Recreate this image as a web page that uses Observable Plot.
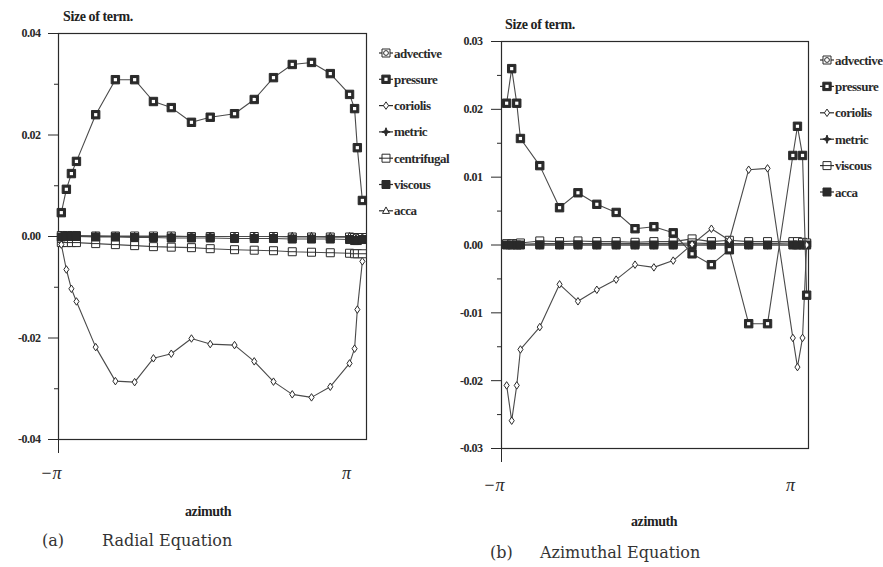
<!DOCTYPE html>
<html><head><meta charset="utf-8">
<script src="https://cdn.jsdelivr.net/npm/d3@7"></script>
<script src="https://cdn.jsdelivr.net/npm/@observablehq/plot@0.6"></script>
<style>
body{margin:0;background:#fff;}
#root{position:relative;width:883px;height:567px;background:#fff;overflow:hidden;color:#222;}
.abs{position:absolute;white-space:nowrap;line-height:1;transform:translateY(-50%);}
.lab{font-family:"Liberation Serif",serif;font-weight:bold;letter-spacing:-0.4px;}
.cap{font-family:"DejaVu Serif",serif;font-size:16px;color:#333;}
#root svg{position:absolute;overflow:visible;}
[aria-label="y-axis tick label"]{font-weight:bold;letter-spacing:-0.5px;}
[aria-label="x-axis tick label"]{font-style:italic;}
</style></head><body><div id="root"></div>
<script>
// ---------- data ----------
const seriesNamesA = ["advective","pressure","coriolis","metric","centrifugal","viscous","acca"];
const seriesNamesB = ["advective","pressure","coriolis","metric","viscous","acca"];

// (a) Radial equation
const azimuthA = [-3.08,-2.97,-2.86,-2.75,-2.33,-1.90,-1.48,-1.07,-0.68,-0.24,0.17,0.70,1.13,1.55,1.96,2.38,2.79,3.21,3.32,3.38,3.49];
const advectiveA = [0.0002,0.0002,0.0002,0.0002,0.0001,0.0001,0.0001,0.0001,0.0001,0.0000,0.0000,0.0000,0.0000,0.0000,-0.0001,-0.0001,-0.0001,-0.0001,-0.0002,-0.0002,-0.0002];
const pressureA = [0.0047,0.0093,0.0124,0.0148,0.0240,0.0309,0.0309,0.0266,0.0254,0.0225,0.0235,0.0242,0.0270,0.0313,0.0339,0.0343,0.0321,0.0280,0.0252,0.0175,0.0071];
const coriolisA = [-0.0016,-0.0065,-0.0103,-0.0128,-0.0218,-0.0285,-0.0287,-0.0240,-0.0231,-0.0201,-0.0212,-0.0214,-0.0246,-0.0286,-0.0311,-0.0317,-0.0296,-0.0250,-0.0221,-0.0144,-0.0049];
const metricA = [0.0001,0.0001,0.0001,0.0001,0.0001,0.0000,0.0000,0.0000,0.0000,0.0000,0.0000,0.0000,0.0000,0.0000,0.0000,0.0000,-0.0001,-0.0001,-0.0003,-0.0004,-0.0003];
const centrifugalA = [-0.0012,-0.0012,-0.0012,-0.0012,-0.0014,-0.0016,-0.0018,-0.0020,-0.0021,-0.0022,-0.0024,-0.0026,-0.0027,-0.0028,-0.0030,-0.0031,-0.0032,-0.0033,-0.0034,-0.0034,-0.0034];
const viscousA = [-0.0001,0.0000,0.0000,0.0000,-0.0001,-0.0001,-0.0002,-0.0002,-0.0003,-0.0003,-0.0003,-0.0004,-0.0004,-0.0004,-0.0005,-0.0005,-0.0005,-0.0006,-0.0008,-0.0008,-0.0006];
const accaA = [0.0000,0.0000,0.0000,0.0000,0.0000,0.0000,0.0000,0.0000,0.0000,0.0000,0.0000,0.0000,0.0000,0.0000,0.0000,0.0000,0.0000,0.0000,-0.0002,-0.0002,-0.0002];

// (b) Azimuthal equation
const azimuthB = [-3.03,-2.92,-2.81,-2.73,-2.31,-1.88,-1.48,-1.07,-0.65,-0.24,0.17,0.59,1.00,1.42,1.81,2.23,2.64,3.19,3.29,3.40,3.49];
const advectiveB = [0.0001,0.0001,0.0001,0.0001,0.0002,0.0002,0.0002,0.0002,0.0002,0.0002,0.0002,0.0002,0.0003,0.0002,0.0002,0.0002,0.0002,0.0003,0.0003,0.0003,0.0002];
const pressureB = [0.0209,0.0260,0.0209,0.0157,0.0117,0.0055,0.0077,0.0060,0.0048,0.0024,0.0027,0.0018,-0.0013,-0.0029,-0.0007,-0.0116,-0.0116,0.0132,0.0175,0.0132,-0.0074];
const coriolisB = [-0.0207,-0.0259,-0.0207,-0.0154,-0.0121,-0.0058,-0.0083,-0.0066,-0.0051,-0.0029,-0.0033,-0.0023,0.0001,0.0024,0.0007,0.0111,0.0113,-0.0137,-0.0180,-0.0137,0.0000];
const metricB = [0.0000,0.0000,0.0000,0.0000,0.0000,0.0000,0.0000,0.0000,0.0000,0.0000,0.0000,0.0000,0.0000,0.0000,0.0000,0.0000,0.0000,0.0000,0.0000,0.0000,0.0000];
const viscousB = [0.0002,0.0002,0.0002,0.0003,0.0006,0.0005,0.0006,0.0005,0.0005,0.0004,0.0005,0.0005,0.0009,0.0005,0.0007,0.0005,0.0005,0.0005,0.0005,0.0004,0.0003];
const accaB = [0.0000,0.0000,0.0000,0.0000,0.0000,0.0000,0.0000,0.0000,0.0000,0.0000,0.0000,0.0000,0.0000,0.0000,0.0000,0.0000,0.0000,0.0000,0.0000,0.0000,0.0000];

// ticks
const xTickValues = [-Math.PI, Math.PI];
const xTickLabels = ["\u2212\u03c0", "\u03c0"];
const yMajorA = [-0.04,-0.02,0,0.02,0.04];
const yMinorA = [-0.03,-0.01,0.01,0.03];
const yMajorB = [-0.03,-0.02,-0.01,0,0.01,0.02,0.03];
const yMinorB = [-0.025,-0.015,-0.005,0.005,0.015,0.025];

// ---------- symbols ----------
function sym(fn){ return {draw(c, size){ fn(c, Math.sqrt(size/Math.PI)); }}; }
function sq(c,h){ c.moveTo(-h,-h); c.lineTo(h,-h); c.lineTo(h,h); c.lineTo(-h,h); c.closePath(); }
const SYM = {
  square: sym((c,r)=>sq(c,r)),
  advective: sym((c,r)=>{ sq(c,r); c.moveTo(r*0.6,0); c.arc(0,0,r*0.6,0,2*Math.PI); }),
  lineSquare: sym((c,r)=>{ sq(c,r); c.moveTo(-r,0); c.lineTo(r,0); }),
  diamond: sym((c,r)=>{ c.moveTo(0,-r*1.25); c.lineTo(r*0.85,0); c.lineTo(0,r*1.25); c.lineTo(-r*0.85,0); c.closePath(); }),
  star: sym((c,r)=>{ const a=r*1.3,b=r*0.35; c.moveTo(0,-a); c.lineTo(b,-b); c.lineTo(a,0); c.lineTo(b,b); c.lineTo(0,a); c.lineTo(-b,b); c.lineTo(-a,0); c.lineTo(-b,-b); c.closePath(); }),
  triangle: sym((c,r)=>{ c.moveTo(0,-r*1.1); c.lineTo(r,r*0.75); c.lineTo(-r,r*0.75); c.closePath(); })
};
const INK = "#2a2a2a", LINE = "#4a4a4a";
const STYLE = {
  advective: {symbol: SYM.advective, fill: "#fff", r: 4},
  pressure: {symbol: SYM.square, fill: INK, r: 4.2, inner: 1.6},
  coriolis: {symbol: SYM.diamond, fill: "#fff", r: 3},
  metric: {symbol: SYM.star, fill: INK, r: 3.2},
  centrifugal: {symbol: SYM.lineSquare, fill: "#fff", r: 4},
  viscousA: {symbol: SYM.square, fill: INK, r: 4},
  viscousB: {symbol: SYM.lineSquare, fill: "#fff", r: 4},
  accaA: {symbol: SYM.triangle, fill: "#fff", r: 3.5},
  accaB: {symbol: SYM.square, fill: INK, r: 4}
};

function rows(az, vals){ return az.map((a,i)=>({az:a, v:vals[i]})); }
function seriesMarks(az, vals, st){
  const d = rows(az, vals);
  const m = [
    Plot.line(d, {x:"az", y:"v", stroke: LINE, strokeWidth: 1.1}),
    Plot.dot(d, {x:"az", y:"v", symbol: st.symbol, r: st.r, fill: st.fill, stroke: INK, strokeWidth: 1})
  ];
  if (st.inner) m.push(Plot.dot(d, {x:"az", y:"v", symbol: SYM.square, r: st.inner, fill: "#fff", stroke: "none"}));
  return m;
}
function axes(major, minor, labelPad, xPad){
  const font = {fontSize: 12, fontFamily: "Liberation Serif"};
  return [
    Plot.axisY({ticks: major, label: null, tickSize: 10, tickPadding: labelPad, tickFormat: d => d.toFixed(2), stroke: INK, fill: INK, ...font}),
    Plot.axisY({ticks: minor, label: null, tickSize: 4, tickFormat: () => "", stroke: INK}),
    Plot.axisX({ticks: xTickValues.slice(0,1), label: null, tickSize: 14, tickFormat: () => "", stroke: INK}),
    Plot.axisX({ticks: xTickValues.slice(0,1), label: null, tickSize: 0, tickPadding: xPad, tickFormat: () => xTickLabels[0], textAnchor: "end", dx: 3, fontSize: 18, fontFamily: "Liberation Serif", fill: INK}),
    Plot.axisX({ticks: xTickValues.slice(1), label: null, tickSize: 0, tickPadding: xPad, tickFormat: () => xTickLabels[1], fontSize: 18, fontFamily: "Liberation Serif", fill: INK}),
    Plot.frame({stroke: INK, strokeWidth: 1.2})
  ];
}

const root = document.getElementById("root");

// ---------- (a) ----------
const seriesA = [advectiveA, pressureA, coriolisA, metricA, centrifugalA, viscousA, accaA];
const stylesA = [STYLE.advective, STYLE.pressure, STYLE.coriolis, STYLE.metric, STYLE.centrifugal, STYLE.viscousA, STYLE.accaA];
const orderA = [0,4,3,6,2,1,5];
const plotA = Plot.plot({
  width: 380, height: 462, marginLeft: 58, marginRight: 14, marginTop: 33, marginBottom: 23,
  x: {domain: [-Math.PI, 3.58], label: null}, y: {domain: [-0.04, 0.04], label: null},
  style: {background: "transparent", fontFamily: "Liberation Serif"},
  marks: [
    ...axes(yMajorA, yMinorA, 8, 27),
    ...orderA.flatMap(i => seriesMarks(azimuthA, seriesA[i], stylesA[i]))
  ]
});
plotA.style.left = "0px"; plotA.style.top = "0px";
root.appendChild(plotA);

// ---------- (b) ----------
const seriesB = [advectiveB, pressureB, coriolisB, metricB, viscousB, accaB];
const stylesB = [STYLE.advective, STYLE.pressure, STYLE.coriolis, STYLE.metric, STYLE.viscousB, STYLE.accaB];
const orderB = [3,0,4,5,2,1];
const plotB = Plot.plot({
  width: 380, height: 470, marginLeft: 61, marginRight: 12, marginTop: 41, marginBottom: 22,
  x: {domain: [-Math.PI, 3.53], label: null}, y: {domain: [-0.03, 0.03], label: null},
  style: {background: "transparent", fontFamily: "Liberation Serif"},
  marks: [
    ...axes(yMajorB, yMinorB, 9, 30),
    ...orderB.flatMap(i => seriesMarks(azimuthB, seriesB[i], stylesB[i]))
  ]
});
plotB.style.left = "440px"; plotB.style.top = "0px";
root.appendChild(plotB);

// ---------- legends ----------
const ov = d3.select(root).append("svg").attr("width", 883).attr("height", 567).style("left","0px").style("top","0px");
function legend(names, styles, x0, y0, dy){
  names.forEach((n, i) => {
    const y = y0 + i*dy, st = styles[i];
    const g = ov.append("g").attr("transform", `translate(${x0},${y})`);
    g.append("line").attr("x1",-7).attr("x2",7).attr("stroke",INK).attr("stroke-width",1.2);
    const p = d3.path(); st.symbol.draw(p, st.r*st.r*Math.PI);
    g.append("path").attr("d", p.toString()).attr("fill", st.fill).attr("stroke", INK);
    if (st.inner){ const q = d3.path(); SYM.square.draw(q, st.inner*st.inner*Math.PI); g.append("path").attr("d", q.toString()).attr("fill","#fff"); }
    g.append("text").attr("x", 8).attr("dy","0.35em").attr("fill", INK)
      .style("font-family","Liberation Serif").style("font-weight","bold").style("font-size","13px").style("letter-spacing","-0.5px")
      .text(n);
  });
}
legend(seriesNamesA, stylesA, 386, 53, 26.3);
legend(seriesNamesB, stylesB, 827, 60, 26.4);

// ---------- texts ----------
function txt(s, x, y, cls, size){
  const e = document.createElement("div"); e.className = "abs " + cls; e.textContent = s;
  e.style.left = x + "px"; e.style.top = y + "px"; if (size) e.style.fontSize = size + "px";
  root.appendChild(e); return e;
}
txt("Size of term.", 63, 17, "lab", 14);
txt("Size of term.", 505, 25, "lab", 14);
const az1 = txt("azimuth", 0, 512, "lab", 14); az1.style.left = (208 - az1.offsetWidth/2) + "px";
const az2 = txt("azimuth", 0, 522, "lab", 14); az2.style.left = (654 - az2.offsetWidth/2) + "px";
txt("(a)", 42, 541, "cap");
txt("Radial Equation", 102, 541, "cap");
txt("(b)", 490, 553, "cap");
txt("Azimuthal Equation", 540, 553, "cap");
</script></body></html>
